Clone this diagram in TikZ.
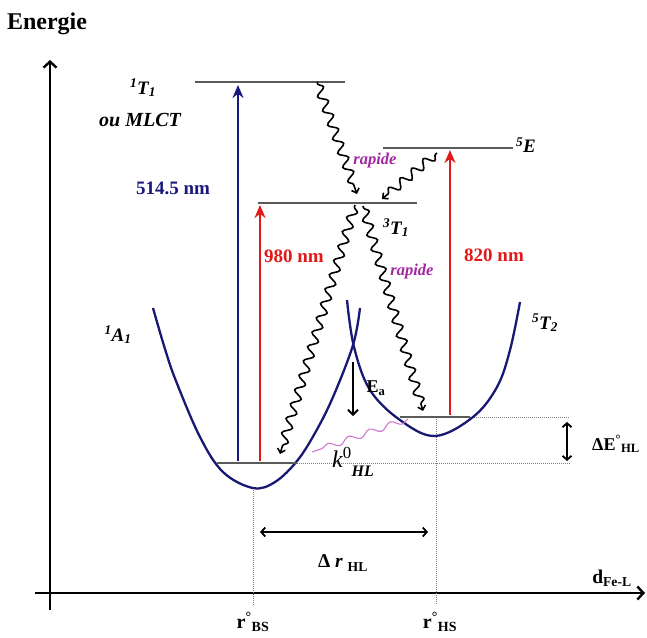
\documentclass[tikz,border=0pt]{standalone}
\usepackage{fontspec}
\setmainfont{Liberation Serif}
\usetikzlibrary{decorations.pathmorphing, arrows.meta}
\definecolor{curveblue}{RGB}{25,25,115}
\definecolor{laserblue}{RGB}{25,25,125}
\definecolor{laserred}{RGB}{225,25,25}
\definecolor{levelgray}{RGB}{90,90,90}
\definecolor{fastpink}{RGB}{160,40,160}
\definecolor{tunnelpink}{RGB}{205,120,205}
\tikzset{
  axis/.style={line width=2.4pt, -{Straight Barb[length=6pt, width=13pt]}},
  level/.style={levelgray, line width=2.4pt},
  guide/.style={gray, densely dotted, line width=1pt},
  potential/.style={curveblue, line width=2.3pt},
  laser/.style={line width=2.8pt, -{Stealth[length=13pt, width=11pt]}},
  relax/.style={line width=1.6pt, decorate, decoration={snake, segment length=15pt,
      amplitude=4.5pt, pre length=2pt, post length=6pt}, -{Straight Barb[length=4pt, width=8pt]}},
  tunnel/.style={tunnelpink, line width=1.1pt, decorate, decoration={snake, segment length=22pt, amplitude=3pt}},
  span/.style={line width=1.8pt, {Straight Barb[length=4pt, width=9pt]}-{Straight Barb[length=4pt, width=9pt]}},
  state/.style={font=\bfseries\itshape\fontsize{19}{22}\selectfont},
  wavelength/.style={font=\bfseries\fontsize{19}{22}\selectfont},
  speed/.style={fastpink, font=\bfseries\itshape\fontsize{16.5}{19}\selectfont},
  quantity/.style={font=\bfseries\fontsize{18}{21}\selectfont},
}

\begin{document}
\begin{tikzpicture}[x=1pt, y=-1pt]
  \useasboundingbox (0,0) rectangle (647,637);
  % axes
  \coordinate (ybot) at (50,610);
  \coordinate (ytop) at (50,60);
  \coordinate (xleft) at (35,593);
  \coordinate (xright) at (645,593);
  \draw[axis] (ybot) -- (ytop);
  \draw[axis] (xleft) -- (xright);
  \node[font=\bfseries\fontsize{24}{28}\selectfont] (energy) at (47,24) {Energie};
  \node[quantity, font=\bfseries\fontsize{19.5}{22}\selectfont] (dist) at (612,578) {d\textsubscript{Fe-L}};
  \node[quantity, font=\bfseries\fontsize{20}{22}\selectfont] (rbs) at (253,622) {r\textsuperscript{°}\textsubscript{BS}};
  \node[quantity, font=\bfseries\fontsize{20}{22}\selectfont] (rhs) at (440,622) {r\textsuperscript{°}\textsubscript{HS}};
  % guide lines
  \coordinate (bsmin) at (253,490);
  \coordinate (bsfoot) at (253,605);
  \coordinate (hsmin) at (436,417);
  \coordinate (hsfoot) at (436,605);
  \draw[guide] (bsmin) -- (bsfoot);
  \draw[guide] (hsmin) -- (hsfoot);
  \coordinate (BSend) at (570,463);
  \coordinate (HSend) at (570,417);
  \coordinate (BSR) at (297,463);
  \coordinate (HSR) at (470,417);
  \draw[guide] (BSR) -- (BSend);
  \draw[guide] (HSR) -- (HSend);
  % potential wells
  \draw[potential] plot[smooth, tension=0.6] coordinates {(153,308) (165,349) (176,381) (200,437)
    (223,472) (253,488) (275,482) (297,461) (315,433) (333,397) (353,345) (360,308)};
  \draw[potential] plot[smooth, tension=0.6] coordinates {(347,300) (354,347) (370,390) (400,420)
    (435,436) (473,417) (497,387) (510,350) (520,302)};
  \node[state] (A1) at (118,335) {\textsuperscript{1}A\textsubscript{1}};
  \node[state] (T2) at (545,323) {\textsuperscript{5}T\textsubscript{2}};
  % levels
  \coordinate (S1L) at (195,82);
  \coordinate (S1R) at (345,82);
  \coordinate (T3L) at (258,203);
  \coordinate (T3R) at (417,203);
  \coordinate (E5L) at (383,148);
  \coordinate (E5R) at (513,148);
  \coordinate (BSL) at (217,463);
  \coordinate (HSL) at (400,417);
  \draw[level] (S1L) -- (S1R);
  \draw[level] (T3L) -- (T3R);
  \draw[level] (E5L) -- (E5R);
  \draw[level] (BSL) -- (BSR);
  \draw[level] (HSL) -- (HSR);
  \node[state] (T1s) at (143,88) {\textsuperscript{1}T\textsubscript{1}};
  \node[state, font=\bfseries\itshape\fontsize{20}{22}\selectfont] (mlct) at (140,120) {ou MLCT};
  \node[state] (T1t) at (396,228) {\textsuperscript{3}T\textsubscript{1}};
  \node[state] (E5) at (526,145) {\textsuperscript{5}E};
  % excitations
  \coordinate (b514) at (238,461);
  \coordinate (t514) at (238,85);
  \coordinate (b980) at (260,461);
  \coordinate (t980) at (260,205);
  \coordinate (b820) at (450,415);
  \coordinate (t820) at (450,150);
  \draw[laser, laserblue] (b514) -- (t514);
  \draw[laser, laserred] (b980) -- (t980);
  \draw[laser, laserred] (b820) -- (t820);
  \node[wavelength, laserblue] (l514) at (173,188) {514.5 nm};
  \node[wavelength, laserred] (l980) at (294,256) {980 nm};
  \node[wavelength, laserred] (l820) at (494,255) {820 nm};
  % relaxations
  \coordinate (r1a) at (317,82);
  \coordinate (r1b) at (357,194);
  \coordinate (r2a) at (437,153);
  \coordinate (r2b) at (382,199);
  \coordinate (r3a) at (355,205);
  \coordinate (r3b) at (280,454);
  \coordinate (r4a) at (363,206);
  \coordinate (r4b) at (423,411);
  \draw[relax] (r1a) -- (r1b);
  \draw[relax] (r2a) -- (r2b);
  \draw[relax] (r3a) -- (r3b);
  \draw[relax] (r4a) -- (r4b);
  \node[speed] (fast1) at (375,161) {rapide};
  \node[speed] (fast2) at (412,272) {rapide};
  % tunnelling HS -> BS
  \coordinate (k0a) at (408,419);
  \coordinate (k0b) at (312,452);
  \draw[tunnel] (k0a) -- (k0b);
  \node[font=\itshape\fontsize{24}{26}\selectfont] (k0) at (353,462)
    {k\textsuperscript{\upshape 0}\raisebox{-9pt}{\bfseries\fontsize{16}{18}\selectfont HL}};
  % activation energy
  \coordinate (Eatop) at (353,362);
  \coordinate (Eabot) at (353,416);
  \draw[line width=1.8pt, -{Straight Barb[length=5pt, width=10pt]}] (Eatop) -- (Eabot);
  \node[quantity] (Ea) at (376,388) {E\textsubscript{a}};
  % energy gap
  \coordinate (gapt) at (567,422);
  \coordinate (gapb) at (567,461);
  \draw[span] (gapt) -- (gapb);
  \node[quantity] (dE) at (616,444) {ΔE\textsuperscript{°}\textsubscript{HL}};
  % distance change
  \coordinate (drl) at (260,532);
  \coordinate (drr) at (428,532);
  \draw[span] (drl) -- (drr);
  \node[quantity, font=\bfseries\fontsize{19.5}{22}\selectfont] (dr) at (343,563) {Δ \textit{r} \textsubscript{HL}};
\end{tikzpicture}
\end{document}
